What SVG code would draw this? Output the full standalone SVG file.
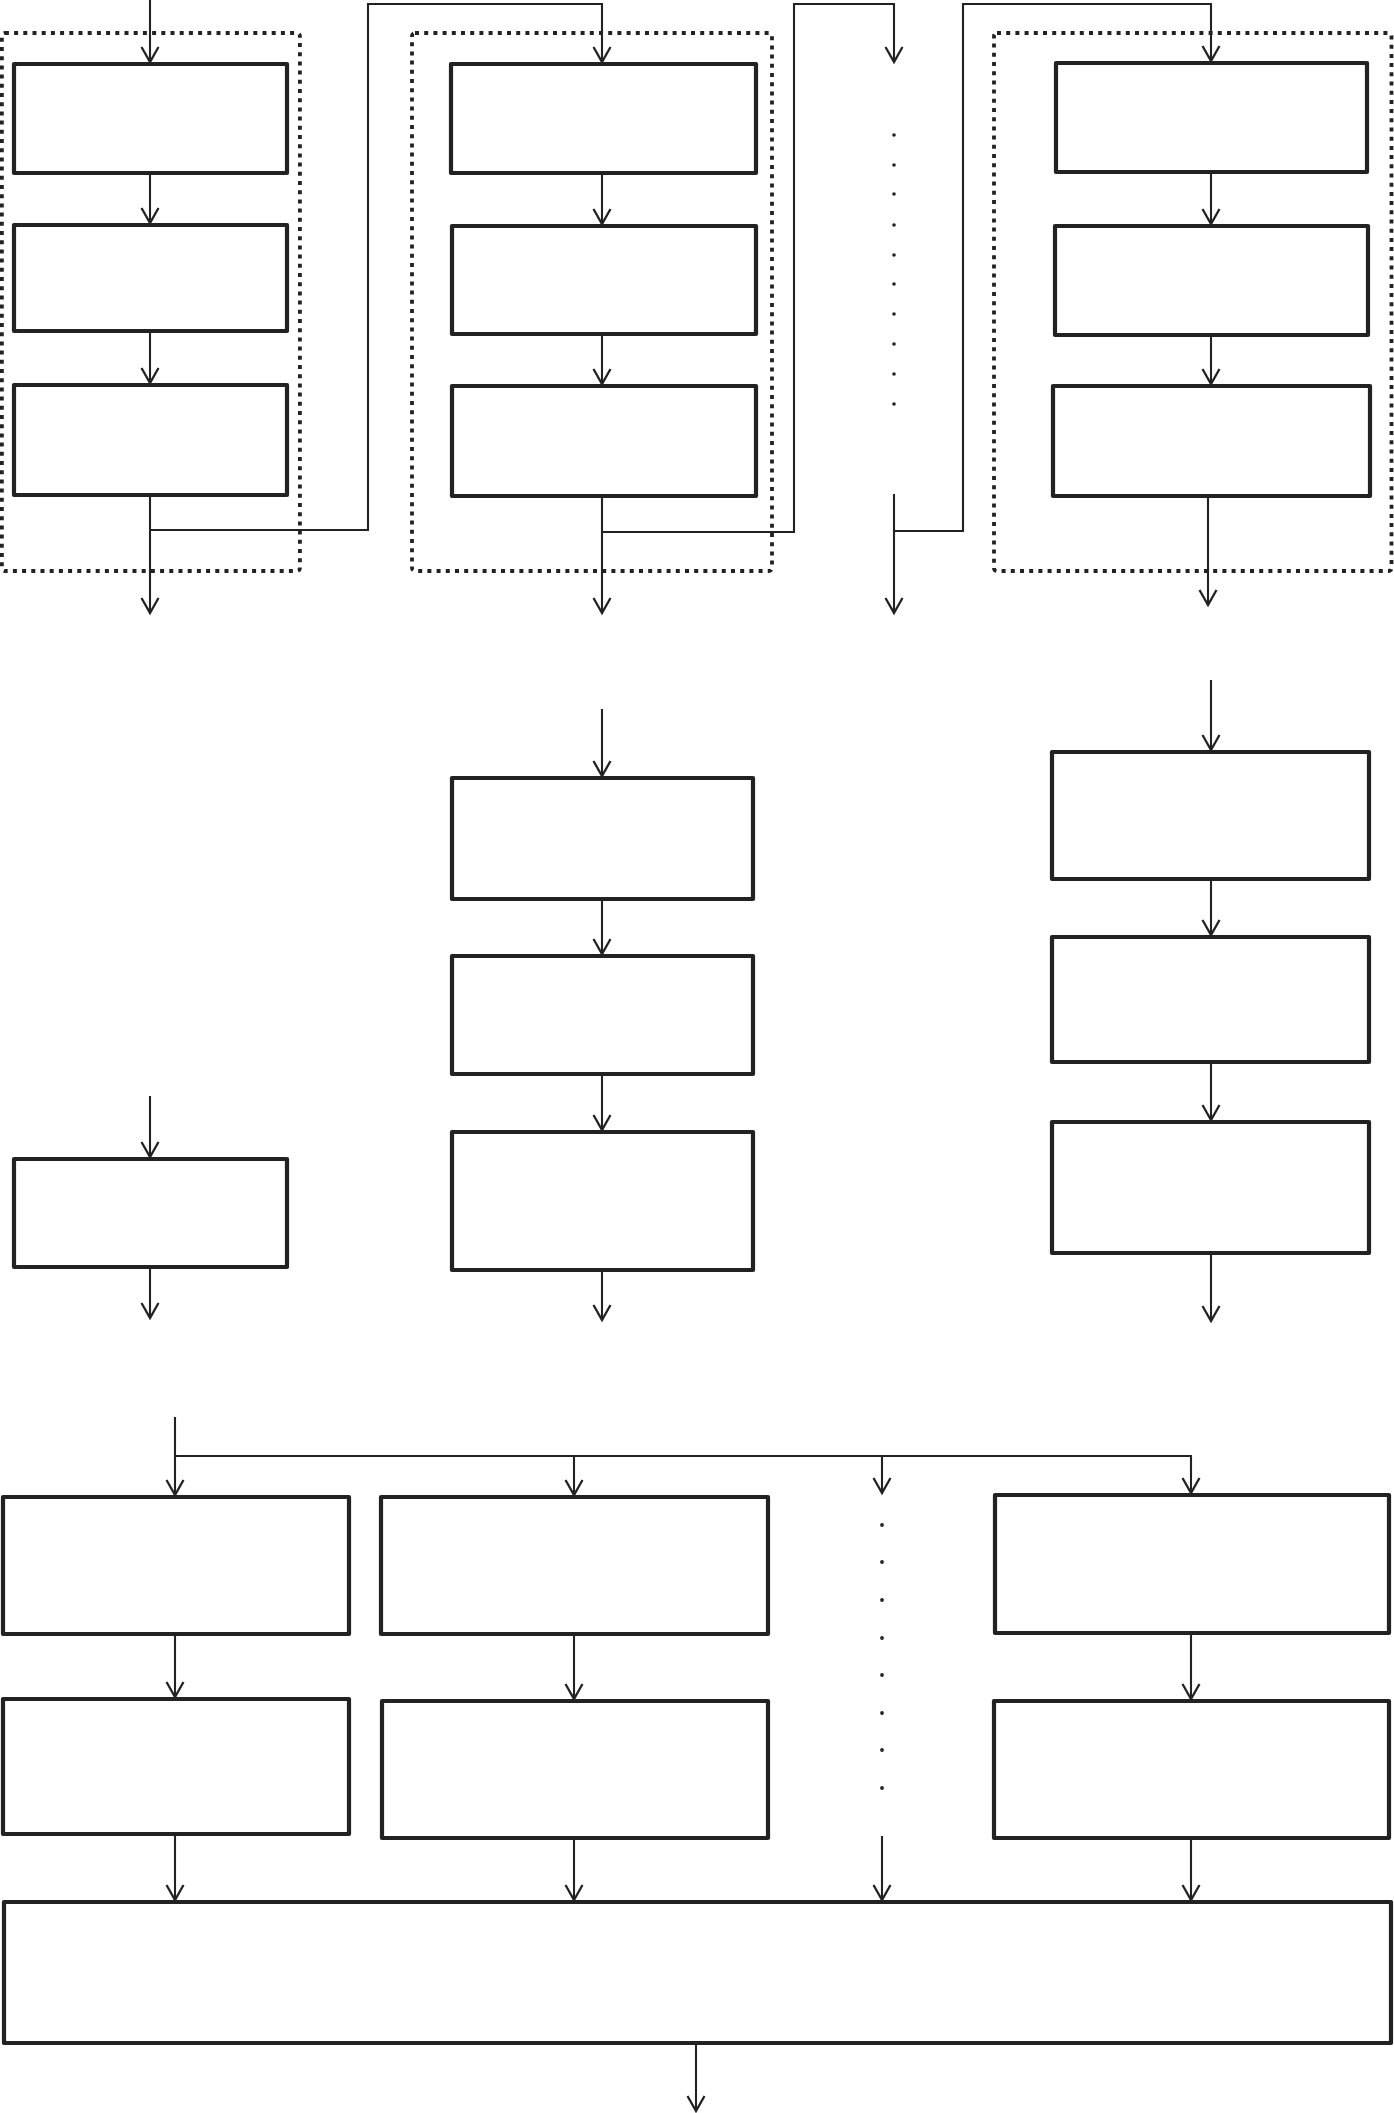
<svg xmlns="http://www.w3.org/2000/svg" width="1394" height="2113" viewBox="0 0 1394 2113">
<style>
.box{fill:#fff;stroke:#222;stroke-width:4.2;stroke-linejoin:round}
.frame{fill:none;stroke:#222;stroke-width:3.8;stroke-dasharray:4 5.2}
.c{fill:none;stroke:#222;stroke-width:2}
.a{fill:none;stroke:#222;stroke-width:2.1;marker-end:url(#arr)}
.dot{fill:#222}
</style>
<defs>
<marker id="arr" markerUnits="userSpaceOnUse" markerWidth="20" markerHeight="22" viewBox="-18 -11 20 22" refX="0" refY="0" orient="auto">
<path d="M-15,-8.5 L0,0 L-15,8.5" fill="none" stroke="#222" stroke-width="2.3"/>
</marker>
</defs>
<rect width="1394" height="2113" fill="#fff"/>

<g id="frames">
<rect id="frame1" class="frame" x="1.9" y="33" width="298" height="538" rx="3"/>
<rect id="frame2" class="frame" x="412" y="33" width="360" height="538" rx="3"/>
<rect id="frame4" class="frame" x="994" y="33" width="397.5" height="538" rx="3"/>
</g>

<g id="top-col1">
<rect id="t1a" class="box" x="14" y="64" width="273" height="109"/>
<rect id="t1b" class="box" x="14" y="225" width="273" height="106"/>
<rect id="t1c" class="box" x="14" y="385" width="273" height="110"/>
</g>
<g id="top-col2">
<rect id="t2a" class="box" x="451" y="64" width="305" height="109"/>
<rect id="t2b" class="box" x="452" y="226" width="304" height="108"/>
<rect id="t2c" class="box" x="452" y="386" width="304" height="110"/>
</g>
<g id="top-col4">
<rect id="t4a" class="box" x="1056" y="63" width="311" height="109"/>
<rect id="t4b" class="box" x="1055" y="226" width="313" height="109"/>
<rect id="t4c" class="box" x="1053" y="386" width="317" height="110"/>
</g>

<g id="mid-col1">
<rect id="m1a" class="box" x="14" y="1159" width="273" height="108"/>
</g>
<g id="mid-col2">
<rect id="m2a" class="box" x="452" y="778" width="301" height="121"/>
<rect id="m2b" class="box" x="452" y="956" width="301" height="118"/>
<rect id="m2c" class="box" x="452" y="1132" width="301" height="138"/>
</g>
<g id="mid-col4">
<rect id="m4a" class="box" x="1052" y="752" width="317" height="127"/>
<rect id="m4b" class="box" x="1052" y="937" width="317" height="125"/>
<rect id="m4c" class="box" x="1052" y="1122" width="317" height="131"/>
</g>

<g id="bot-col1">
<rect id="b1a" class="box" x="3" y="1497" width="346" height="137"/>
<rect id="b1b" class="box" x="3" y="1699" width="346" height="135"/>
</g>
<g id="bot-col2">
<rect id="b2a" class="box" x="381" y="1497" width="387" height="137"/>
<rect id="b2b" class="box" x="382" y="1701" width="386" height="137"/>
</g>
<g id="bot-col4">
<rect id="b4a" class="box" x="995" y="1495" width="394" height="138"/>
<rect id="b4b" class="box" x="994" y="1701" width="395" height="137"/>
</g>
<g id="bot-merge">
<rect id="bm" class="box" x="4" y="1902" width="1387" height="141"/>
</g>

<g id="ellipses">
<circle class="dot" cx="894" cy="135" r="1.8"/>
<circle class="dot" cx="894" cy="165" r="1.8"/>
<circle class="dot" cx="894" cy="194" r="1.8"/>
<circle class="dot" cx="894" cy="225" r="1.8"/>
<circle class="dot" cx="894" cy="255" r="1.8"/>
<circle class="dot" cx="894" cy="284" r="1.8"/>
<circle class="dot" cx="894" cy="314" r="1.8"/>
<circle class="dot" cx="894" cy="344" r="1.8"/>
<circle class="dot" cx="894" cy="374" r="1.8"/>
<circle class="dot" cx="894" cy="404" r="1.8"/>
<circle class="dot" cx="882" cy="1525" r="1.9"/>
<circle class="dot" cx="882" cy="1562" r="1.9"/>
<circle class="dot" cx="882" cy="1600" r="1.9"/>
<circle class="dot" cx="882" cy="1638" r="1.9"/>
<circle class="dot" cx="882" cy="1675" r="1.9"/>
<circle class="dot" cx="882" cy="1713" r="1.9"/>
<circle class="dot" cx="882" cy="1750" r="1.9"/>
<circle class="dot" cx="882" cy="1788" r="1.9"/>
</g>

<g id="connectors">
<path class="a" d="M150,0 V62"/>
<path class="a" d="M150,173 V223"/>
<path class="a" d="M150,331 V383"/>
<path class="a" d="M150,495 V613"/>
<path class="a" d="M150,530 H368 V4 H602 V62"/>
<path class="a" d="M602,173 V224"/>
<path class="a" d="M602,334 V384"/>
<path class="a" d="M602,496 V613"/>
<path class="a" d="M602,532 H794 V4 H894 V62"/>
<path class="a" d="M894,494 V613"/>
<path class="a" d="M894,531 H963 V4 H1211 V61"/>
<path class="a" d="M1211,172 V224"/>
<path class="a" d="M1211,335 V384"/>
<path class="a" d="M1208,496 V605"/>
<path class="a" d="M150,1096 V1157"/>
<path class="a" d="M150,1267 V1318"/>
<path class="a" d="M602,709 V776"/>
<path class="a" d="M602,899 V954"/>
<path class="a" d="M602,1074 V1130"/>
<path class="a" d="M602,1270 V1320"/>
<path class="a" d="M1211,680 V750"/>
<path class="a" d="M1211,879 V935"/>
<path class="a" d="M1211,1062 V1120"/>
<path class="a" d="M1211,1253 V1321"/>
<path class="a" d="M175,1417 V1495"/>
<path class="a" d="M175,1456 H1191 V1493"/>
<path class="a" d="M574,1456 V1495"/>
<path class="a" d="M882,1456 V1493"/>
<path class="a" d="M175,1634 V1697"/>
<path class="a" d="M574,1634 V1699"/>
<path class="a" d="M1191,1633 V1699"/>
<path class="a" d="M175,1834 V1900"/>
<path class="a" d="M574,1838 V1900"/>
<path class="a" d="M882,1836 V1900"/>
<path class="a" d="M1191,1838 V1900"/>
<path class="a" d="M696,2043 V2111"/>
</g>
</svg>
